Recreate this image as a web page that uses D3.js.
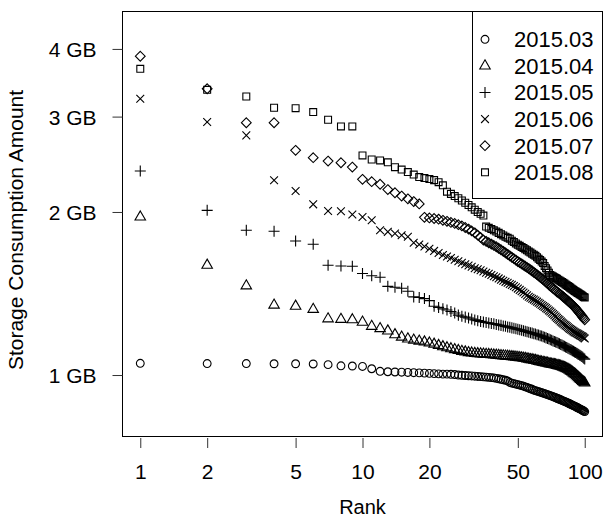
<!DOCTYPE html>
<html>
<head>
<meta charset="utf-8">
<script src="https://cdnjs.cloudflare.com/ajax/libs/d3/7.8.5/d3.min.js"></script>
<style>
  body { margin: 0; background: #fff; }
  text { font-family: "Liberation Sans", Arial, Helvetica, sans-serif; fill: #000; }
</style>
</head>
<body>
<div id="chart"></div>
<script>
// Storage consumption per rank, one array per month (GB)
var months = ["2015.03", "2015.04", "2015.05", "2015.06", "2015.07", "2015.08"];
var shapes = ["circle", "triangle", "plus", "times", "diamond", "square"];
var xTicks = [1, 2, 5, 10, 20, 50, 100];
var yTicks = [1, 2, 3, 4];
var yTickLabels = ["1 GB", "2 GB", "3 GB", "4 GB"];

var s201503 = [
  1.051, 1.050, 1.050, 1.049, 1.049, 1.048, 1.045, 1.040, 1.039, 1.037,
  1.027, 1.016, 1.014, 1.013, 1.012, 1.011, 1.010, 1.009, 1.008, 1.007,
  1.006, 1.005, 1.004, 1.004, 1.003, 1.002, 1.000, 0.999, 0.998, 0.997,
  0.996, 0.995, 0.994, 0.993, 0.992, 0.991, 0.990, 0.989, 0.988, 0.986,
  0.984, 0.982, 0.980, 0.978, 0.975, 0.969, 0.966, 0.964, 0.962, 0.960,
  0.958, 0.956, 0.954, 0.951, 0.949, 0.946, 0.943, 0.941, 0.938, 0.936,
  0.934, 0.932, 0.930, 0.928, 0.926, 0.924, 0.922, 0.920, 0.918, 0.916,
  0.914, 0.912, 0.910, 0.908, 0.906, 0.904, 0.902, 0.900, 0.898, 0.896,
  0.894, 0.892, 0.890, 0.888, 0.886, 0.884, 0.882, 0.880, 0.878, 0.876,
  0.874, 0.872, 0.870, 0.868, 0.866, 0.864, 0.862, 0.860, 0.858, 0.856
];
var s201504 = [
  1.958, 1.595, 1.461, 1.346, 1.340, 1.322, 1.270, 1.267, 1.265, 1.252,
  1.230, 1.218, 1.206, 1.187, 1.175, 1.166, 1.160, 1.155, 1.151, 1.146,
  1.140, 1.134, 1.128, 1.123, 1.118, 1.114, 1.110, 1.106, 1.103, 1.100,
  1.098, 1.096, 1.095, 1.094, 1.093, 1.092, 1.091, 1.090, 1.089, 1.088,
  1.087, 1.086, 1.085, 1.084, 1.083, 1.082, 1.081, 1.080, 1.079, 1.078,
  1.077, 1.076, 1.074, 1.073, 1.071, 1.070, 1.068, 1.067, 1.065, 1.064,
  1.062, 1.060, 1.058, 1.057, 1.055, 1.054, 1.053, 1.052, 1.050, 1.048,
  1.047, 1.046, 1.045, 1.044, 1.042, 1.041, 1.040, 1.038, 1.036, 1.034,
  1.032, 1.030, 1.027, 1.025, 1.022, 1.019, 1.015, 1.012, 1.008, 1.005,
  1.001, 0.997, 0.993, 0.989, 0.985, 0.981, 0.977, 0.973, 0.970, 0.967
];
var s201505 = [
  2.380, 2.014, 1.851, 1.843, 1.768, 1.744, 1.595, 1.590, 1.588, 1.540,
  1.525, 1.515, 1.458, 1.452, 1.446, 1.428, 1.394, 1.390, 1.384, 1.372,
  1.340, 1.333, 1.325, 1.318, 1.310, 1.302, 1.290, 1.284, 1.279, 1.274,
  1.269, 1.264, 1.260, 1.256, 1.253, 1.250, 1.248, 1.245, 1.243, 1.240,
  1.237, 1.235, 1.232, 1.230, 1.227, 1.225, 1.222, 1.220, 1.217, 1.215,
  1.212, 1.210, 1.207, 1.204, 1.202, 1.199, 1.197, 1.195, 1.192, 1.190,
  1.187, 1.185, 1.182, 1.180, 1.177, 1.174, 1.171, 1.168, 1.165, 1.162,
  1.159, 1.156, 1.153, 1.151, 1.148, 1.145, 1.142, 1.139, 1.136, 1.133,
  1.130, 1.127, 1.124, 1.121, 1.118, 1.115, 1.112, 1.109, 1.106, 1.103,
  1.100, 1.097, 1.094, 1.091, 1.088, 1.085, 1.082, 1.078, 1.074, 1.070
];
var s201506 = [
  3.236, 2.931, 2.770, 2.288, 2.187, 2.066, 2.008, 2.006, 1.978, 1.958,
  1.931, 1.850, 1.838, 1.825, 1.812, 1.800, 1.755, 1.742, 1.727, 1.710,
  1.695, 1.680, 1.666, 1.655, 1.645, 1.632, 1.622, 1.612, 1.602, 1.593,
  1.584, 1.575, 1.568, 1.561, 1.553, 1.545, 1.538, 1.530, 1.522, 1.515,
  1.508, 1.500, 1.493, 1.486, 1.480, 1.473, 1.467, 1.460, 1.452, 1.444,
  1.436, 1.428, 1.420, 1.412, 1.403, 1.395, 1.389, 1.383, 1.378, 1.372,
  1.366, 1.360, 1.354, 1.347, 1.341, 1.335, 1.329, 1.323, 1.316, 1.310,
  1.303, 1.296, 1.289, 1.282, 1.275, 1.269, 1.263, 1.256, 1.250, 1.245,
  1.240, 1.235, 1.230, 1.225, 1.220, 1.216, 1.212, 1.208, 1.204, 1.200,
  1.197, 1.194, 1.191, 1.188, 1.185, 1.182, 1.179, 1.176, 1.172, 1.168
];
var s201507 = [
  3.878, 3.377, 2.923, 2.923, 2.599, 2.519, 2.483, 2.466, 2.421, 2.298,
  2.275, 2.250, 2.200, 2.170, 2.140, 2.115, 2.090, 2.070, 1.955, 1.950,
  1.945, 1.940, 1.930, 1.922, 1.913, 1.905, 1.895, 1.885, 1.872, 1.860,
  1.845, 1.830, 1.812, 1.795, 1.775, 1.765, 1.755, 1.745, 1.735, 1.725,
  1.714, 1.703, 1.692, 1.681, 1.670, 1.660, 1.650, 1.640, 1.630, 1.620,
  1.612, 1.604, 1.596, 1.588, 1.580, 1.572, 1.564, 1.556, 1.548, 1.540,
  1.532, 1.524, 1.516, 1.508, 1.500, 1.492, 1.484, 1.476, 1.468, 1.460,
  1.453, 1.446, 1.439, 1.432, 1.425, 1.419, 1.413, 1.407, 1.401, 1.395,
  1.389, 1.383, 1.377, 1.371, 1.365, 1.359, 1.353, 1.347, 1.341, 1.335,
  1.328, 1.321, 1.314, 1.307, 1.300, 1.293, 1.286, 1.279, 1.272, 1.265
];
var s201508 = [
  3.676, 3.362, 3.268, 3.115, 3.110, 3.058, 2.960, 2.877, 2.877, 2.544,
  2.500, 2.490, 2.470, 2.420, 2.395, 2.370, 2.345, 2.320, 2.310, 2.300,
  2.290, 2.270, 2.240, 2.180, 2.160, 2.140, 2.120, 2.100, 2.080, 2.060,
  2.040, 2.020, 2.000, 1.985, 1.970, 1.880, 1.870, 1.860, 1.850, 1.840,
  1.830, 1.820, 1.810, 1.800, 1.792, 1.785, 1.770, 1.760, 1.750, 1.740,
  1.732, 1.724, 1.716, 1.707, 1.699, 1.690, 1.683, 1.675, 1.668, 1.660,
  1.650, 1.640, 1.630, 1.620, 1.610, 1.590, 1.575, 1.560, 1.545, 1.530,
  1.525, 1.520, 1.515, 1.510, 1.505, 1.500, 1.495, 1.490, 1.485, 1.480,
  1.475, 1.470, 1.465, 1.460, 1.455, 1.450, 1.445, 1.440, 1.435, 1.430,
  1.426, 1.422, 1.418, 1.414, 1.410, 1.406, 1.402, 1.398, 1.394, 1.390
];
var seriesValues = [s201503, s201504, s201505, s201506, s201507, s201508];

var width = 605, height = 517,
    box = {left: 122.5, right: 602.5, top: 11.5, bottom: 436.5},
    fontSize = 21,
    R = 3.9;   // symbol radius, roughly like R's pch at cex 1

// log axes with R's 4% padding on x
var x = d3.scaleLog()
    .domain([Math.pow(10, -0.08), Math.pow(10, 2.08)])
    .range([box.left, box.right]);
var y = d3.scaleLog()
    .domain([0.77, 4.69])
    .range([box.bottom, box.top]);

/* path strings for the open R symbols, centred on 0,0 */
function symbolPath(shape) {
    var p = d3.path(), h;
    switch (shape) {
        case "circle":
            p.moveTo(R, 0); p.arc(0, 0, R, 0, 2 * Math.PI); p.closePath(); break;
        case "square":
            h = R * 0.886; p.rect(-h, -h, 2 * h, 2 * h); break;
        case "diamond":
            h = R * 1.2533;
            p.moveTo(0, -h); p.lineTo(h, 0); p.lineTo(0, h); p.lineTo(-h, 0); p.closePath(); break;
        case "triangle":
            var r = R * 1.555, xc = r * Math.sqrt(3) / 2;
            p.moveTo(0, -r); p.lineTo(xc, r / 2); p.lineTo(-xc, r / 2); p.closePath(); break;
        case "plus":
            h = R * Math.SQRT2;
            p.moveTo(-h, 0); p.lineTo(h, 0); p.moveTo(0, -h); p.lineTo(0, h); break;
        case "times":
            h = R;
            p.moveTo(-h, -h); p.lineTo(h, h); p.moveTo(-h, h); p.lineTo(h, -h); break;
    }
    return p.toString();
}

var svg = d3.select("#chart").append("svg")
    .attr("width", width)
    .attr("height", height);

// Points
seriesValues.forEach(function (vals, si) {
    svg.append("g")
        .attr("class", "series")
        .selectAll("path")
        .data(vals)
        .enter()
        .append("path")
        .attr("d", symbolPath(shapes[si]))
        .attr("transform", function (d, i) {
            return "translate(" + x(i + 1) + "," + y(d) + ")";
        })
        .attr("fill", "none")
        .attr("stroke", "#000")
        .attr("stroke-width", 1.1);
});

// Plot box
svg.append("rect")
    .attr("x", box.left).attr("y", box.top)
    .attr("width", box.right - box.left).attr("height", box.bottom - box.top)
    .attr("fill", "none").attr("stroke", "#000").attr("stroke-width", 1);

// Axes
var xAxis = d3.axisBottom(x).tickValues(xTicks).tickSize(10).tickFormat(d3.format("d"));
var gx = svg.append("g")
    .attr("transform", "translate(0," + (box.bottom + 1.5) + ")")
    .call(xAxis);
gx.select(".domain").remove();
gx.selectAll(".tick line").attr("stroke", "#333");
gx.selectAll(".tick text")
    .attr("y", 41.3).attr("dy", null)
    .style("font-size", fontSize + "px")
    .style("font-family", '"Liberation Sans", Arial, sans-serif')
    .attr("fill", "#000");

var yAxis = d3.axisLeft(y).tickValues(yTicks).tickSize(10)
    .tickFormat(function (d, i) { return yTickLabels[i]; });
var gy = svg.append("g")
    .attr("transform", "translate(" + box.left + ",0)")
    .call(yAxis);
gy.select(".domain").remove();
gy.selectAll(".tick line").attr("stroke", "#333");
gy.selectAll(".tick text")
    .attr("x", -26).attr("dy", "0.36em")
    .style("font-size", fontSize + "px")
    .style("font-family", '"Liberation Sans", Arial, sans-serif')
    .attr("fill", "#000");

// Axis titles
svg.append("text")
    .attr("x", (box.left + box.right) / 2)
    .attr("y", 514)
    .attr("text-anchor", "middle")
    .style("font-size", "20px")
    .text("Rank");

svg.append("text")
    .attr("transform", "translate(23,230) rotate(-90)")
    .attr("text-anchor", "middle")
    .style("font-size", "21px")
    .text("Storage Consumption Amount");

// Legend
var legend = {left: 472.5, top: box.top, bottom: 198.5, rowH: 26.6, firstRow: 39.3};
svg.append("rect")
    .attr("x", legend.left).attr("y", legend.top)
    .attr("width", box.right - legend.left).attr("height", legend.bottom - legend.top)
    .attr("fill", "#fff").attr("stroke", "#000").attr("stroke-width", 1);

var items = svg.selectAll(".legend-item")
    .data(months)
    .enter()
    .append("g")
    .attr("class", "legend-item")
    .attr("transform", function (d, i) {
        return "translate(0," + (legend.firstRow + i * legend.rowH) + ")";
    });
items.append("path")
    .attr("d", function (d, i) { return symbolPath(shapes[i]); })
    .attr("transform", "translate(485,0)")
    .attr("fill", "none").attr("stroke", "#000").attr("stroke-width", 1.1);
items.append("text")
    .attr("x", 514)
    .attr("dy", "0.36em")
    .style("font-size", "22px")
    .text(function (d) { return d; });
</script>
</body>
</html>
